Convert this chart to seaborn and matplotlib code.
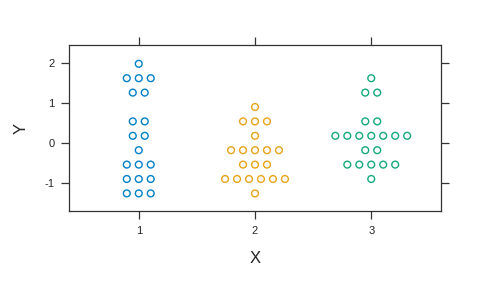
import numpy as np
import pandas as pd
import matplotlib
matplotlib.use("Agg")
import matplotlib.pyplot as plt
import seaborn as sns

# Data (binned values, one entry per point)
groups = [1, 2, 3]
colors = ["#0080C6", "#E8A317", "#14A97C"]
y_group1 = [1.98, 1.62, 1.62, 1.62, 1.26, 1.26, 0.54, 0.54, 0.18, 0.18, -0.18,
            -0.54, -0.54, -0.54, -0.90, -0.90, -0.90, -1.26, -1.26, -1.26]
y_group2 = [0.90, 0.54, 0.54, 0.54, 0.18, -0.18, -0.18, -0.18, -0.18, -0.18,
            -0.54, -0.54, -0.54, -0.90, -0.90, -0.90, -0.90, -0.90, -0.90, -1.26]
y_group3 = [1.62, 1.26, 1.26, 0.54, 0.54, 0.18, 0.18, 0.18, 0.18, 0.18, 0.18, 0.18,
            -0.18, -0.18, -0.54, -0.54, -0.54, -0.54, -0.54, -0.90]
x_ticks = [1, 2, 3]
y_ticks = [-1, 0, 1, 2]

sns.set_theme(style="white")
plt.rcParams['font.family'] = ['Liberation Sans', 'DejaVu Sans']

# beeswarm-like centered layout: points sharing a value are spread symmetrically
spacing = 0.103
rows = []
for g, ys in zip(groups, [y_group1, y_group2, y_group3]):
    ys = np.asarray(ys)
    for v in pd.unique(ys):
        n = int(np.sum(ys == v))
        for i in range(n):
            rows.append({"grp": g, "x": g + (i - (n - 1) / 2) * spacing, "y": v})
df = pd.DataFrame(rows)

fig = plt.figure(figsize=(4.8, 2.88), dpi=100)
ax = fig.add_axes([69 / 480, 1 - 211 / 288, 372 / 480, 166 / 288])
sns.scatterplot(data=df, x="x", y="y", hue="grp", palette=colors, ax=ax,
                facecolor="none", marker="o", s=24, linewidth=1.0,
                legend=False)
# make markers hollow with hue edge colors
coll = ax.collections[0]
ec = coll.get_facecolors()
coll.set_edgecolors(ec)
coll.set_facecolors("none")

ax.set_xlim(0.4, 3.6)
ax.set_ylim(-1.7, 2.45)
ax.set_xticks(x_ticks)
ax.set_yticks(y_ticks)
ax.set_xticklabels([str(t) for t in x_ticks])
ax.set_yticklabels([str(t) for t in y_ticks])
ax.tick_params(axis="both", which="both", direction="out", length=5.5, width=0.9,
               color="#333333", labelsize=8, pad=5,
               top=True, right=True, bottom=True, left=True,
               labeltop=False, labelright=False)
for sp in ax.spines.values():
    sp.set_visible(True)
    sp.set_color("#333333")
    sp.set_linewidth(0.9)
ax.set_xlabel("X", fontsize=12, labelpad=11)
ax.set_ylabel("Y", fontsize=12, labelpad=11)
fig.savefig("out.png", dpi=100)
